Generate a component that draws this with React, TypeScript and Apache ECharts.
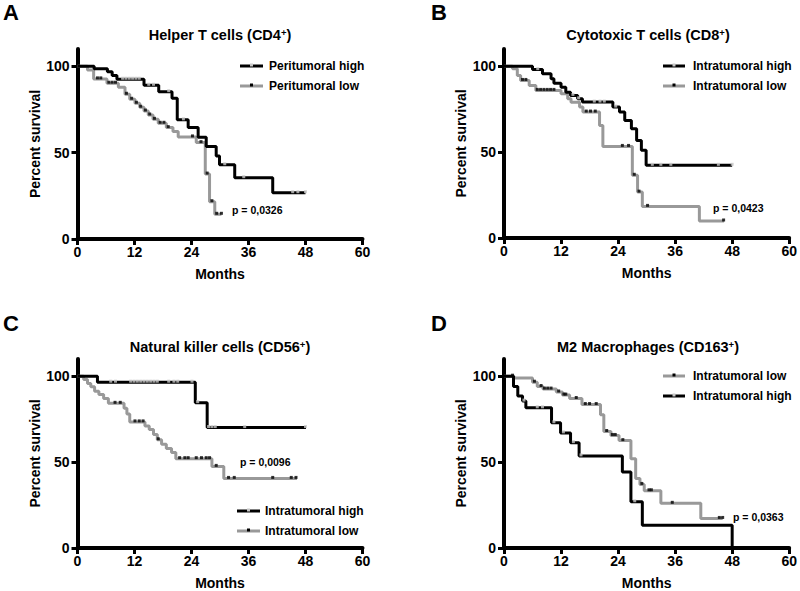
import React, { useEffect, useRef } from 'react';
import * as echarts from 'echarts';

// ---- data (months, percent survival) ----
const monthTicks = [0, 12, 24, 36, 48, 60];
const survivalTicks = [0, 50, 100];

const aHigh = [[0,100],[3.5,98.5],[6.3,96.9],[7.3,94.6],[8.3,92.5],[14,89],[17.1,85.3],[19.9,81.5],[21,69],[23.3,64.5],[25.4,58.9],[27.1,53.5],[29.2,48],[29.9,43],[33.1,35.5],[41.1,26.8],[48,26.8]];
const aHighCensored = [9.5,10.2,10.9,11.6,12.3,13,15,16,19.2,22.3,31,35,45.3,46.4,48];
const aLow = [[0,100],[2.1,97.9],[3.4,92.7],[6.2,90.2],[8.6,87.8],[10,83.8],[11,80.9],[12.1,78.6],[13.1,76.3],[14,74.1],[14.9,71.8],[15.9,69.3],[17,67],[18.7,64.5],[20.1,62.2],[21.2,59.1],[25,55.8],[26.9,37.6],[27.8,21.6],[28.9,14.3],[30.3,14.3]];
const aLowCensored = [4.2,4.9,6.6,7.3,8.0,10.3,11.4,12.4,13.3,14.3,15.2,16.2,17.4,18.2,19.1,24.2,26,27.3,28.3,29.3,30.3];

const bHigh = [[0,100],[6,98],[8.1,95.6],[9.9,92.7],[10.5,90.1],[12,87.8],[13,84.9],[14,83],[15.5,81],[16.5,79.1],[22.9,76.2],[24.3,73.3],[25.4,68.4],[26.8,63.6],[27.9,56.8],[28.9,51],[29.9,42.3],[48,42.3]];
const bHighCensored = [7.1,14.5,15.7,19,20.2,21.1,23.5,31.2,33,35.1,45.1,48];
const bLow = [[0,100],[1.8,98.5],[2.8,94.6],[3.5,91.7],[5.3,88.8],[6.7,85.9],[12,84],[13.4,81],[14.1,79],[15.9,76.2],[16.6,73.3],[20.1,65.5],[20.8,53.3],[27,36.5],[28.1,26.7],[29.1,18.4],[41.1,9.9],[46.3,9.9]];
const bLowCensored = [3.9,4.6,7,7.7,8.4,9.1,9.8,10.5,17.3,18.2,19.2,24.9,26.2,27.4,28.4,30.2,46.2];

const cHigh = [[0,100],[4.2,96.5],[24.8,84.6],[27.3,70.1],[48.1,70.1]];
const cHighCensored = [7,8,11.2,11.9,12.6,13.3,14,14.7,15.4,16.1,16.8,19.2,20.3,21.1,24.1,25.3,27.6,28.3,29,35.2,48];
const cLow = [[0,100],[1.3,98],[2.1,95.8],[2.8,93.8],[3.6,91.3],[4.5,89.4],[5.5,87],[6.5,84.2],[9.8,81.3],[10.4,78],[11,73.4],[14.2,71],[15.1,69],[16,66],[16.8,63],[17.7,60.4],[18.7,57.9],[19.8,55.6],[20.7,52],[28.3,47.5],[30.8,40.5],[46.2,40.5]];
const cLowCensored = [7.9,9,12.1,13,13.8,17,21.5,22.6,23.3,25,26.1,27.1,27.8,29.2,31.8,33,41.1,45,46];

const dLow = [[0,100],[2.1,99],[6,96.5],[7,94],[8.2,92.5],[11,90.8],[12.3,89],[13.8,87],[16.4,83.5],[20.3,77.5],[21,67.8],[22.5,65.5],[24.2,62.5],[26.7,52],[27.7,40.5],[28.6,37],[29.5,33.3],[33,26],[41.4,17.2],[46,17.2]];
const dLowCensored = [1.8,6.4,7.8,8.5,9.2,9.9,11.5,12.6,13,15.2,17.1,18,19.4,21.6,22.8,23.4,25,29,30.5,31,35.4,45.3,46];
const dHigh = [[0,100],[2,94],[2.9,88.4],[3.9,85.5],[4.6,81.6],[10,72.9],[11.9,67],[14,61.3],[15.8,53.6],[24.9,44.3],[26.7,26.9],[29.1,13.3],[48,13.3],[48,0]];
const dHighCensored = [4.2,7,8.1,10.5,12.5,14.6,16.2,27.5];

const panelLetters = ['A', 'B', 'C', 'D'];
const panelTitles = ['Helper T cells (CD4', 'Cytotoxic T cells (CD8', 'Natural killer cells (CD56', 'M2 Macrophages (CD163'];
const highNames = ['Peritumoral high', 'Intratumoral high', 'Intratumoral high', 'Intratumoral high'];
const lowNames = ['Peritumoral low', 'Intratumoral low', 'Intratumoral low', 'Intratumoral low'];
const pValues = ['p = 0,0326', 'p = 0,0423', 'p = 0,0096', 'p = 0,0363'];

const highSets = [aHigh, bHigh, cHigh, dHigh];
const highCens = [aHighCensored, bHighCensored, cHighCensored, dHighCensored];
const lowSets = [aLow, bLow, cLow, dLow];
const lowCens = [aLowCensored, bLowCensored, cLowCensored, dLowCensored];

// ---- layout ----
const FONT = '"Liberation Sans", Arial, Helvetica, sans-serif';
const GRAY = '#999999';
const LIGHT = '#c8c8c8';
const grids = [
  { left: 77.5, top: 49, width: 285, height: 190 },
  { left: 504, top: 49, width: 286, height: 189 },
  { left: 77.5, top: 359, width: 285, height: 190 },
  { left: 504, top: 359, width: 286, height: 190 },
];
const letterPos = [[3, 12], [431, 12], [3, 323], [431, 323]];
const titlePos = [[220, 35], [648, 35], [220, 347], [648, 347]];
const pPos = [[232, 210], [713, 207.5], [240, 462], [733, 517]];
const legendPos = [
  { x1: 240, x2: 263, tx: 269, ys: [66, 86], order: ['high', 'low'] },
  { x1: 663, x2: 685, tx: 693, ys: [66, 86], order: ['high', 'low'] },
  { x1: 237, x2: 260, tx: 265, ys: [511, 531], order: ['high', 'low'] },
  { x1: 663, x2: 685, tx: 693, ys: [376, 396], order: ['low', 'high'] },
];

const levelAt = (steps: number[][], t: number) => {
  let y = steps[0][1];
  for (const [x, v] of steps) {
    if (x <= t) y = v;
    else break;
  }
  return y;
};

const text = (x: number, y: number, str: string, size: number, align: string, vAlign: string, extra: any = {}) => ({
  type: 'text',
  x,
  y,
  silent: true,
  style: {
    text: str,
    fill: '#000',
    fontSize: size,
    fontWeight: 'bold',
    fontFamily: FONT,
    align,
    verticalAlign: vAlign,
    textAlign: align,
    textVerticalAlign: vAlign,
    ...extra,
  },
});

function buildOption() {
  const xAxis: any[] = [];
  const yAxis: any[] = [];
  const series: any[] = [];
  const graphic: any[] = [];
  const axisLabel = { color: '#000', fontSize: 14, fontWeight: 'bold', fontFamily: FONT };
  const nameStyle = { color: '#000', fontSize: 14, fontWeight: 'bold', fontFamily: FONT };

  grids.forEach((g, i) => {
    xAxis.push({
      type: 'value', gridIndex: i, min: monthTicks[0], max: monthTicks[monthTicks.length - 1], interval: 12,
      axisLine: { show: true, lineStyle: { color: '#000', width: 4 } },
      axisTick: { show: true, length: 6, lineStyle: { color: '#000', width: 3 } },
      axisLabel: { ...axisLabel, margin: 6 },
      splitLine: { show: false },
      name: 'Months', nameLocation: 'middle', nameGap: 28, nameTextStyle: nameStyle,
    });
    yAxis.push({
      type: 'value', gridIndex: i, min: 0, max: 110, interval: 50,
      axisLine: { show: true, lineStyle: { color: '#000', width: 4 } },
      axisTick: { show: true, length: 6, lineStyle: { color: '#000', width: 3 }, customValues: survivalTicks },
      axisLabel: { ...axisLabel, margin: 8, customValues: survivalTicks },
      splitLine: { show: false },
      name: 'Percent survival', nameLocation: 'middle', nameGap: 36, nameTextStyle: nameStyle,
    });

    const low = lowSets[i];
    const high = highSets[i];
    series.push({
      type: 'line', name: lowNames[i], xAxisIndex: i, yAxisIndex: i, data: low, step: 'end',
      symbol: 'none', lineStyle: { color: GRAY, width: 3 }, itemStyle: { color: GRAY }, z: 2,
    });
    series.push({
      type: 'line', name: highNames[i], xAxisIndex: i, yAxisIndex: i, data: high, step: 'end',
      symbol: 'none', lineStyle: { color: '#000', width: 3 }, itemStyle: { color: '#000' }, z: 3,
    });
    series.push({
      type: 'scatter', name: lowNames[i] + ' censored', xAxisIndex: i, yAxisIndex: i,
      data: lowCens[i].map((t) => [t, levelAt(low, t)]),
      symbol: 'rect', symbolSize: 3, symbolOffset: [0, -1], itemStyle: { color: '#000' }, z: 4,
    });
    series.push({
      type: 'scatter', name: highNames[i] + ' censored', xAxisIndex: i, yAxisIndex: i,
      data: highCens[i].map((t) => [t, levelAt(high, t)]),
      symbol: 'rect', symbolSize: 3, symbolOffset: [0, -1], itemStyle: { color: LIGHT }, z: 4,
    });

    graphic.push(text(letterPos[i][0], letterPos[i][1], panelLetters[i], 22, 'left', 'middle'));
    graphic.push({
      type: 'text', x: titlePos[i][0], y: titlePos[i][1], silent: true,
      style: {
        text: '{t|' + panelTitles[i] + '}{s|+}{t|)}',
        align: 'center', verticalAlign: 'middle', textAlign: 'center', textVerticalAlign: 'middle',
        rich: {
          t: { fontSize: 14.5, fontWeight: 'bold', fontFamily: FONT, fill: '#000', color: '#000' },
          s: { fontSize: 9.5, fontWeight: 'bold', fontFamily: FONT, fill: '#000', color: '#000', verticalAlign: 'top' },
        },
      },
    });
    graphic.push(text(pPos[i][0], pPos[i][1], pValues[i], 10.5, 'left', 'middle'));

    const lp = legendPos[i];
    lp.order.forEach((kind, k) => {
      const y = lp.ys[k];
      const isHigh = kind === 'high';
      graphic.push({
        type: 'line', silent: true,
        shape: { x1: lp.x1, y1: y, x2: lp.x2, y2: y },
        style: { stroke: isHigh ? '#000' : GRAY, lineWidth: 3 },
      });
      graphic.push({
        type: 'rect', silent: true,
        shape: { x: (lp.x1 + lp.x2) / 2 - 1.5, y: y - 2.5, width: 3, height: 3 },
        style: { fill: isHigh ? LIGHT : '#000' },
      });
      graphic.push(text(lp.tx, y, isHigh ? highNames[i] : lowNames[i], 12, 'left', 'middle'));
    });
  });

  return {
    animation: false,
    backgroundColor: '#fff',
    textStyle: { fontFamily: FONT },
    grid: grids.map((g) => ({ ...g, containLabel: false })),
    xAxis,
    yAxis,
    series,
    graphic,
  };
}

export default function App() {
  const ref = useRef<HTMLDivElement>(null);
  useEffect(() => {
    if (!ref.current) return;
    const chart = echarts.init(ref.current, undefined, { renderer: 'svg' });
    chart.setOption(buildOption() as any);
    return () => chart.dispose();
  }, []);
  return <div ref={ref} style={{ position: 'absolute', left: 0, top: 0, width: 800, height: 591, background: '#fff' }} />;
}
